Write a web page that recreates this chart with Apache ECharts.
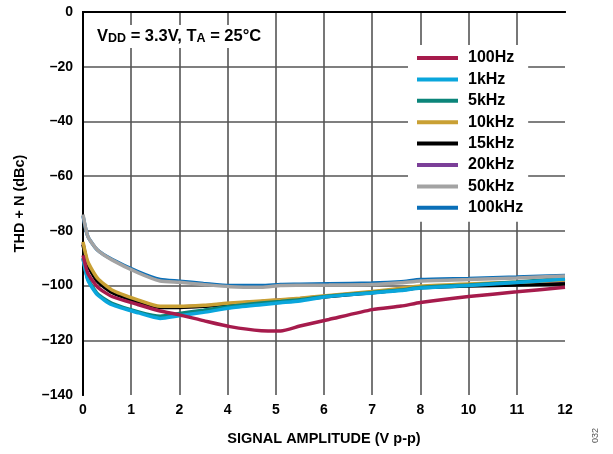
<!DOCTYPE html>
<html>
<head>
<meta charset="utf-8">
<script src="https://cdn.jsdelivr.net/npm/echarts@6/dist/echarts.min.js"></script>
<style>
html, body { margin: 0; padding: 0; background: #fff; }
#chart { width: 613px; height: 454px; }
</style>
</head>
<body>
<div id="chart"></div>
<script>
// x positions are in grid divisions (0..10); the printed tick labels skip 3 and 9
const xTickLabels = ["0", "1", "2", "4", "5", "6", "7", "8", "10", "11", "12"]
const xs = [0, 0.1, 0.3, 0.6, 1.15, 1.6, 2, 2.5, 3.05, 3.7, 4.1, 4.5, 5.1, 6, 6.6, 7, 8, 9, 10]

const hz100 = [-89, -95.5, -100.5, -104, -107, -109.3, -110.7, -112.8, -115, -116.5, -116.6, -114.8, -112.4, -108.8, -107.5, -106.2, -104, -102.3, -100.6]
const khz1 = [-90, -98, -103.4, -107, -110, -112, -111, -109.8, -108.2, -107, -106.3, -105.6, -104, -102.7, -101.8, -100.9, -100, -98.9, -97.6]
const khz5 = [-90, -97.5, -103, -106.5, -109.6, -111.2, -110.2, -109, -107.6, -106.4, -105.8, -105.2, -103.8, -102.5, -101.6, -100.7, -99.8, -98.7, -97.4]
const khz10 = [-84, -91.3, -97.3, -101.6, -105.3, -107.6, -107.6, -107.2, -106.4, -105.6, -105.2, -104.6, -103.6, -102.2, -101, -100.2, -99.4, -98.8, -98]
const khz15 = [-85, -92.5, -98.5, -102.5, -106, -108, -108, -107.6, -106.8, -106, -105.5, -105, -104, -102.6, -101.5, -100.8, -100.2, -99.8, -99.4]
const khz20 = [-84.5, -92, -98, -102, -105.6, -107.8, -107.8, -107.4, -106.6, -105.8, -105.3, -104.8, -103.8, -102.4, -101.3, -100.5, -99.8, -99.3, -98.7]
const khz50 = [-74, -82, -87, -90.6, -95.4, -98.3, -98.8, -99.6, -100.4, -100.6, -100, -99.9, -99.8, -99.6, -99, -98.3, -97.8, -97.2, -96.5]
const khz100 = [-74.5, -82, -87, -90.4, -95, -97.8, -98.4, -99.2, -100, -100, -99.6, -99.5, -99.3, -99.1, -98.6, -97.8, -97.4, -96.9, -96.3]

const legendOrder = ["100Hz", "1kHz", "5kHz", "10kHz", "15kHz", "20kHz", "50kHz", "100kHz"]

const font = "'Liberation Sans', Arial, sans-serif"

// drawn bottom to top
const curves = [
	{ name: "100kHz", data: khz100, color: "#0a6fb8" },
	{ name: "20kHz", data: khz20, color: "#7b3f98" },
	{ name: "15kHz", data: khz15, color: "#000000" },
	{ name: "10kHz", data: khz10, color: "#c9a034" },
	{ name: "5kHz", data: khz5, color: "#0b857a" },
	{ name: "1kHz", data: khz1, color: "#0aa6dc" },
	{ name: "100Hz", data: hz100, color: "#a61b4c" },
	{ name: "50kHz", data: khz50, color: "#a3a3a3" }
]

const pair = vals => vals.map((v, i) => [xs[i], v])

const chart = echarts.init(document.getElementById("chart"))

let option = {
	animation: false,
	grid: { left: 83, right: 48, top: 12, bottom: 59 },
	xAxis: [
		{
			type: "value",
			min: 0,
			max: 10,
			interval: 1,
			name: "SIGNAL AMPLITUDE (V p-p)",
			nameLocation: "middle",
			nameGap: 36,
			nameTextStyle: { fontFamily: font, fontWeight: "bold", fontSize: 14.5, color: "#000" },
			axisLine: { show: true, lineStyle: { color: "#000", width: 2 } },
			axisTick: { show: false },
			axisLabel: {
				margin: 8,
				fontFamily: font,
				fontWeight: "bold",
				fontSize: 14,
				color: "#000",
				formatter: v => xTickLabels[v]
			},
			splitLine: { show: true, showMinLine: false, showMaxLine: false, lineStyle: { color: "#555", width: 1.6 } }
		},
		{
			type: "value",
			position: "top",
			min: 0,
			max: 10,
			axisLine: { show: true, lineStyle: { color: "#000", width: 2 } },
			axisTick: { show: false },
			axisLabel: { show: false },
			splitLine: { show: false }
		}
	],
	yAxis: [
		{
			type: "value",
			min: -140,
			max: 0,
			interval: 20,
			name: "THD + N (dBc)",
			nameLocation: "middle",
			nameGap: 56,
			nameTextStyle: { fontFamily: font, fontWeight: "bold", fontSize: 14.5, color: "#000" },
			axisLine: { show: true, lineStyle: { color: "#000", width: 2 } },
			axisTick: { show: false },
			axisLabel: {
				margin: 10,
				fontFamily: font,
				fontWeight: "bold",
				fontSize: 14,
				color: "#000",
				formatter: v => (v < 0 ? "\u2013" + -v : "" + v)
			},
			splitLine: { show: true, showMinLine: false, showMaxLine: false, lineStyle: { color: "#555", width: 1.6 } }
		},
		{
			type: "value",
			position: "right",
			min: -140,
			max: 0,
			axisLine: { show: true, lineStyle: { color: "#000", width: 2 } },
			axisTick: { show: false },
			axisLabel: { show: false },
			splitLine: { show: false }
		}
	],
	legend: {
		data: legendOrder,
		orient: "vertical",
		left: 408,
		top: 45,
		backgroundColor: "#fff",
		padding: [5, 5, 6, 9],
		icon: "rect",
		itemWidth: 41,
		itemHeight: 4,
		itemGap: 5.4,
		textStyle: { fontFamily: font, fontWeight: "bold", fontSize: 16, color: "#000", padding: [0, 0, 0, 5] }
	},
	graphic: [
		{
			type: "text",
			left: 89,
			top: 25,
			z: 10,
			style: {
				text: "V{sub|DD} = 3.3V, T{sub|A} = 25°C",
				fontFamily: font,
				fontWeight: "bold",
				fontSize: 16.5,
				fill: "#000",
				backgroundColor: "#fff",
				padding: [3, 8, 3, 8],
				rich: {
					sub: { fontFamily: font, fontWeight: "bold", fontSize: 12.5, verticalAlign: "bottom", lineHeight: 13, padding: [6, 0, 0, 0] }
				}
			}
		},
		{
			type: "text",
			left: 591,
			top: 428,
			rotation: Math.PI / 2,
			style: { text: "032", fontFamily: font, fontSize: 9, fill: "#555" }
		}
	],
	series: curves.map(c => ({
		name: c.name,
		type: "line",
		data: pair(c.data),
		symbol: "none",
		smooth: 0.2,
		color: c.color,
		lineStyle: { color: c.color, width: 3.5 }
	}))
}

chart.setOption(option)
</script>
</body>
</html>
